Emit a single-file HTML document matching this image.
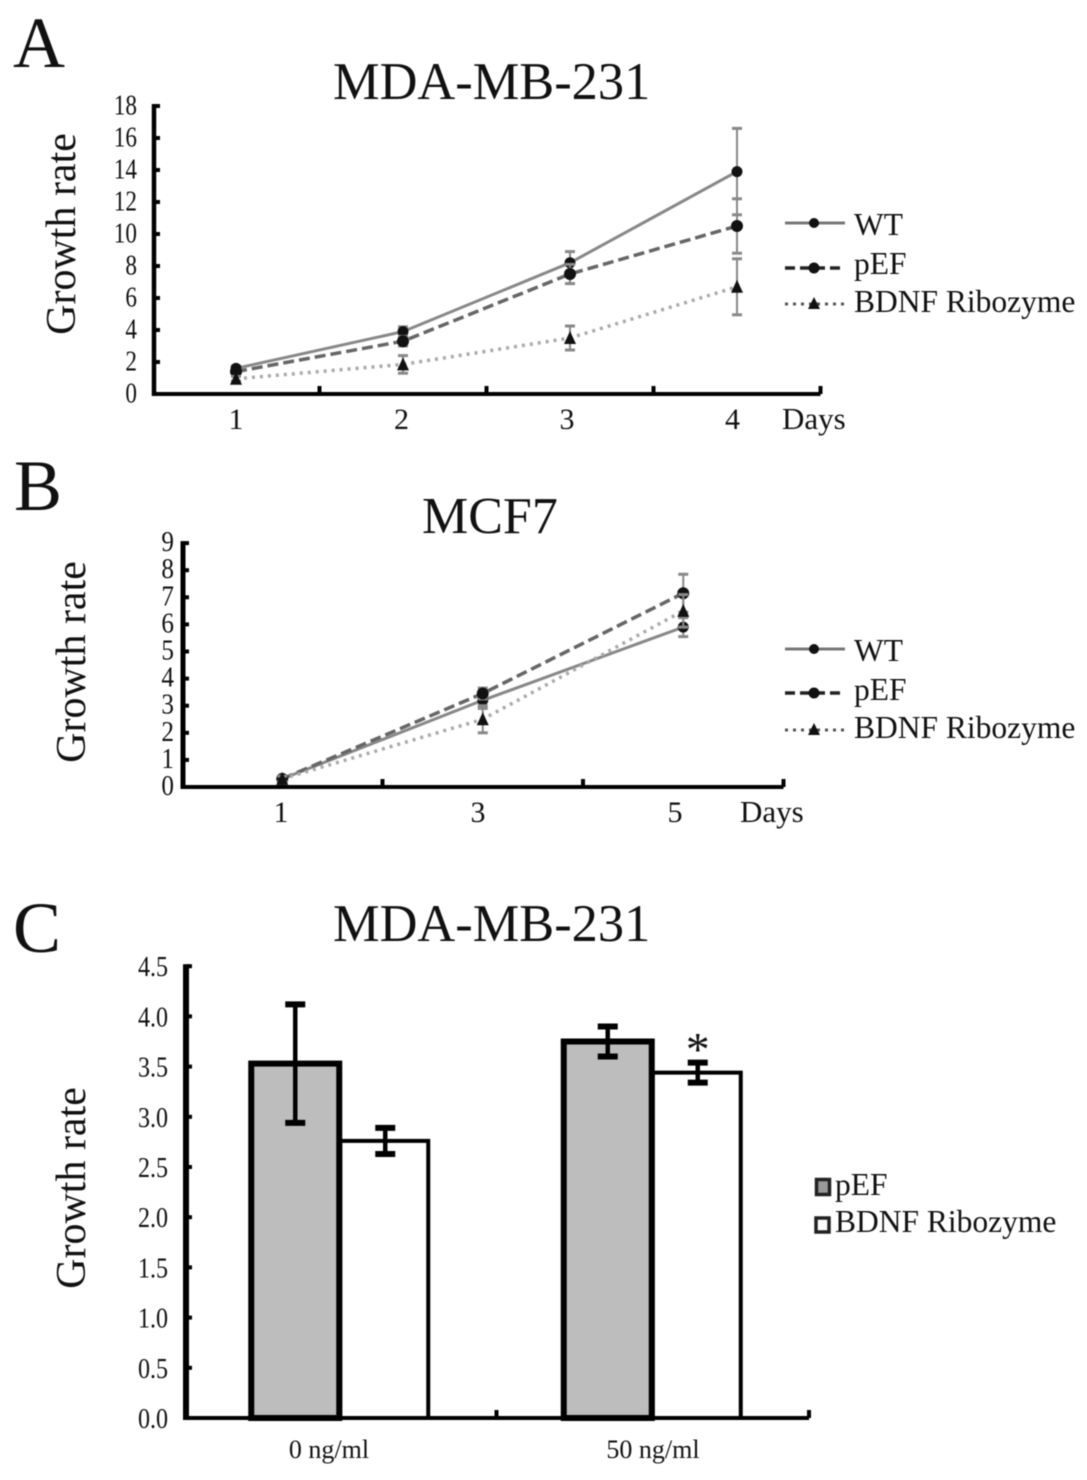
<!DOCTYPE html>
<html lang="en">
<head>
<meta charset="utf-8">
<title>Growth rate charts</title>
<style>
html,body{margin:0;padding:0;background:#fff;}
svg{display:block;font-family:"Liberation Serif",serif;fill:#111;filter:blur(0.4px);}
text{fill:#111;}
</style>
</head>
<body>
<svg id="figure" xmlns="http://www.w3.org/2000/svg" width="1087" height="1480" viewBox="0 0 1087 1480">
  <rect x="0" y="0" width="1087" height="1480" fill="#fff"/>

  <text x="13" y="67" font-size="72">A</text>
  <text x="14" y="510" font-size="72">B</text>
  <text x="13" y="952" font-size="72">C</text>

  <text x="333" y="99" font-size="52.4">MDA-MB-231</text>
  <text x="422" y="533" font-size="52">MCF7</text>
  <text x="333" y="941" font-size="52.4">MDA-MB-231</text>

  <text transform="translate(75,234) rotate(-90)" text-anchor="middle" font-size="42">Growth rate</text>
  <text transform="translate(85,662) rotate(-90)" text-anchor="middle" font-size="42">Growth rate</text>
  <text transform="translate(85,1188) rotate(-90)" text-anchor="middle" font-size="42">Growth rate</text>

  <text x="782" y="429" font-size="31">Days</text>
  <text x="740" y="822" font-size="31">Days</text>

  <g>
    <g>
      <line x1="785" y1="223" x2="845" y2="223" stroke="#777" stroke-width="3"/>
      <circle cx="814" cy="223" r="5" fill="#111"/>
      <text x="854" y="235" font-size="31.5">WT</text>
    </g>
    <g>
      <line x1="785" y1="268" x2="845" y2="268" stroke="#222" stroke-width="3.5" stroke-dasharray="10 5"/>
      <circle cx="814" cy="268" r="5.5" fill="#111"/>
      <text x="854" y="274" font-size="31.5">pEF</text>
    </g>
    <g>
      <line x1="785" y1="304" x2="845" y2="304" stroke="#555" stroke-width="3" stroke-dasharray="3 5"/>
      <polygon points="814,297 820,309 808,309" fill="#111"/>
      <text x="854" y="312" font-size="31.5">BDNF Ribozyme</text>
    </g>
  </g>

  <g>
    <g>
      <line x1="785" y1="649" x2="845" y2="649" stroke="#777" stroke-width="3"/>
      <circle cx="814" cy="649" r="5" fill="#111"/>
      <text x="854" y="661" font-size="31.5">WT</text>
    </g>
    <g>
      <line x1="785" y1="693" x2="845" y2="693" stroke="#222" stroke-width="3.5" stroke-dasharray="10 5"/>
      <circle cx="814" cy="693" r="5.5" fill="#111"/>
      <text x="854" y="700" font-size="31.5">pEF</text>
    </g>
    <g>
      <line x1="785" y1="730" x2="845" y2="730" stroke="#555" stroke-width="3" stroke-dasharray="3 5"/>
      <polygon points="814,723 820,735 808,735" fill="#111"/>
      <text x="854" y="738" font-size="31.5">BDNF Ribozyme</text>
    </g>
  </g>

  <g>
    <g>
      <rect x="816.5" y="1179.5" width="13" height="15" fill="#999" stroke="#222" stroke-width="3.5"/>
      <text x="835" y="1195" font-size="31.5">pEF</text>
    </g>
    <g>
      <rect x="816" y="1218" width="13" height="14" fill="#fff" stroke="#222" stroke-width="3.5"/>
      <text x="835" y="1232" font-size="31.5">BDNF Ribozyme</text>
    </g>
  </g>

  <g id="chart-a"></g>
  <g id="chart-b"></g>
  <g id="chart-c"></g>
</svg>

<script>
// Chart A: MDA-MB-231 line chart
const aCategories = ['1', '2', '3', '4'];
const aYTicks = [0, 2, 4, 6, 8, 10, 12, 14, 16, 18];
const aWT = [1.6, 3.9, 8.2, 13.9];
const aWTErr = [0.15, 0.3, 0.7, 2.7];
const aPEF = [1.4, 3.3, 7.5, 10.5];
const aPEFErr = [0.15, 0.3, 0.6, 1.7];
const aRibozyme = [0.95, 1.85, 3.5, 6.7];
const aRibozymeErr = [0.15, 0.55, 0.75, 1.75];

// Chart B: MCF7 line chart
const bCategories = ['1', '3', '5'];
const bYTicks = [0, 1, 2, 3, 4, 5, 6, 7, 8, 9];
const bWT = [0.3, 3.2, 5.9];
const bWTErr = [0.1, 0.3, 0.35];
const bPEF = [0.3, 3.45, 7.15];
const bPEFErr = [0.1, 0.2, 0.7];
const bRibozyme = [0.3, 2.5, 6.5];
const bRibozymeErr = [0.1, 0.5, 0.6];

// Chart C: MDA-MB-231 bar chart
const cCategories = ['0 ng/ml', '50 ng/ml'];
const cYTicks = ['0.0', '0.5', '1.0', '1.5', '2.0', '2.5', '3.0', '3.5', '4.0', '4.5'];
const cPEF = [3.53, 3.75];
const cPEFErr = [0.59, 0.15];
const cRibozyme = [2.76, 3.44];
const cRibozymeErr = [0.13, 0.1];

const NS = 'http://www.w3.org/2000/svg';

function make(parent, tag, attrs) {
  const node = document.createElementNS(NS, tag);
  for (const key in attrs) {
    node.setAttribute(key, attrs[key]);
  }
  parent.appendChild(node);
  return node;
}

function bandScale(left, band) {
  return function (i) { return left + (i + 0.5) * band; };
}

function linearScale(base, unitPx) {
  return function (v) { return base - v * unitPx; };
}

function drawAxes(group, cfg) {
  const right = cfg.left + cfg.band * cfg.categories.length;
  const yAxis = make(group, 'line', {x1: cfg.axisX, x2: cfg.axisX, y1: cfg.y(cfg.yMax) - 2, y2: cfg.y(0) + 2, stroke: '#000', 'stroke-width': cfg.axisWidth});
  
  
  const xAxis = make(group, 'line', {x1: cfg.axisX - 2, x2: right, y1: cfg.y(0), y2: cfg.y(0), stroke: '#000', 'stroke-width': 4});
  
  

  cfg.yTicks.forEach(function (t) {
    const v = Number(t);
    const tick = make(group, 'line', {x1: cfg.axisX, x2: cfg.axisX + 6, y1: cfg.y(v), y2: cfg.y(v), stroke: '#000', 'stroke-width': 4});
    
    
    const label = make(group, 'text', {transform: 'translate(' + cfg.yLabelX + ',' + (cfg.y(v) + cfg.yLabelDy) + ') scale(' + cfg.yLabelStretch + ',1)', 'text-anchor': 'end', 'font-size': cfg.yLabelSize});
    
    
    label.textContent = t;
  });

  for (let i = 1; i <= cfg.categories.length; i++) {
    const tx = cfg.left + i * cfg.band;
    const tick = make(group, 'line', {x1: tx, x2: tx, y1: cfg.y(0), y2: cfg.y(0) - 8, stroke: '#000', 'stroke-width': 4});
    
    
  }

  cfg.categories.forEach(function (c, i) {
    const label = make(group, 'text', {x: cfg.labelX(i), y: cfg.labelY, 'text-anchor': 'middle', 'font-size': cfg.xLabelSize});
    
    
    label.textContent = c;
  });
}

function drawErrorBar(group, cx, y, value, err, capHalf, color, width, capWidth) {
  const stem = make(group, 'line', {x1: cx, x2: cx, y1: y(value + err), y2: y(value - err), stroke: color, 'stroke-width': width});
  
  
  const top = make(group, 'line', {x1: cx - capHalf, x2: cx + capHalf, y1: y(value + err), y2: y(value + err), stroke: color, 'stroke-width': capWidth});
  
  
  const low = make(group, 'line', {x1: cx - capHalf, x2: cx + capHalf, y1: y(value - err), y2: y(value - err), stroke: color, 'stroke-width': capWidth});
  
  
}

function drawSeries(group, x, y, values, errs, style, name) {
  values.forEach(function (v, i) {
    drawErrorBar(group, x(i), y, v, errs[i], 5, '#888', 2, 3);
  });
  const pts = values.map(function (v, i) { return x(i) + ',' + y(v); }).join(' ');
  const line = make(group, 'polyline', {points: pts, fill: 'none', stroke: style.color, 'stroke-width': style.width, 'stroke-dasharray': style.dash});
  
  
  values.forEach(function (v, i) {
    let mark;
    if (style.marker === 'triangle') {
      const px = x(i);
      const py = y(v);
      mark = make(group, 'polygon', {points: px + ',' + (py - 7) + ' ' + (px + 6) + ',' + (py + 6) + ' ' + (px - 6) + ',' + (py + 6), fill: '#111'});
    } else {
      mark = make(group, 'circle', {cx: x(i), cy: y(v), r: style.r, fill: '#111'});
    }
    
    
  });
}

const wtStyle = {color: '#888', width: 3, dash: 'none', marker: 'circle', r: 5.5};
const pefStyle = {color: '#666', width: 3.5, dash: '11 5', marker: 'circle', r: 6};
const ribStyle = {color: '#aaa', width: 3.5, dash: '3 5', marker: 'triangle', r: 5};

// Chart A
const ax = bandScale(152.5, 167);
const ay = linearScale(394, 16);
const aGroup = document.getElementById('chart-a');
drawAxes(aGroup, {
  categories: aCategories, yTicks: aYTicks, yMax: 18, y: ay, left: 152.5, band: 167,
  axisX: 154, axisWidth: 4.5, yLabelX: 137, yLabelDy: 8.5, yLabelSize: 29, yLabelStretch: 0.8,
  labelX: function (i) { return 236 + i * 165.5; }, labelY: 429, xLabelSize: 30
});
drawSeries(aGroup, ax, ay, aWT, aWTErr, wtStyle, 'wt');
drawSeries(aGroup, ax, ay, aPEF, aPEFErr, pefStyle, 'pef');
drawSeries(aGroup, ax, ay, aRibozyme, aRibozymeErr, ribStyle, 'bdnf-ribozyme');

// Chart B
const bx = bandScale(182, 200.5);
const by = linearScale(787, 27.1);
const bGroup = document.getElementById('chart-b');
drawAxes(bGroup, {
  categories: bCategories, yTicks: bYTicks, yMax: 9, y: by, left: 182, band: 200.5,
  axisX: 183, axisWidth: 5, yLabelX: 174, yLabelDy: 8, yLabelSize: 28, yLabelStretch: 0.9,
  labelX: function (i) { return 281 + i * 197; }, labelY: 822, xLabelSize: 30
});
drawSeries(bGroup, bx, by, bWT, bWTErr, wtStyle, 'wt');
drawSeries(bGroup, bx, by, bPEF, bPEFErr, pefStyle, 'pef');
drawSeries(bGroup, bx, by, bRibozyme, bRibozymeErr, ribStyle, 'bdnf-ribozyme');

// Chart C
const cx = bandScale(184, 312.5);
const cy = linearScale(1418, 100.4);
const cGroup = document.getElementById('chart-c');
const barWidth = 88;
cCategories.forEach(function (c, i) {
  const whiteBar = make(cGroup, 'rect', {x: cx(i), y: cy(cRibozyme[i]), width: barWidth, height: cy(0) - cy(cRibozyme[i]), fill: '#fff', stroke: '#000', 'stroke-width': 4});
  
  
  const grayBar = make(cGroup, 'rect', {x: cx(i) - barWidth - 1, y: cy(cPEF[i]), width: barWidth, height: cy(0) - cy(cPEF[i]), fill: '#bdbdbd', stroke: '#000', 'stroke-width': 6});
  
  
});
drawAxes(cGroup, {
  categories: cCategories, yTicks: cYTicks, yMax: 4.5, y: cy, left: 184, band: 312.5,
  axisX: 186, axisWidth: 6, yLabelX: 168, yLabelDy: 10, yLabelSize: 29, yLabelStretch: 0.83,
  labelX: function (i) { return 329 + i * 324; }, labelY: 1458, xLabelSize: 26
});
cCategories.forEach(function (c, i) {
  drawErrorBar(cGroup, cx(i) - barWidth / 2 - 1, cy, cPEF[i], cPEFErr[i], 10, '#000', 4.5, 6);
  drawErrorBar(cGroup, cx(i) + barWidth / 2 + 1, cy, cRibozyme[i], cRibozymeErr[i], 10, '#000', 4.5, 6);
});
const star = make(cGroup, 'text', {x: cx(1) + barWidth / 2 + 1, y: cy(cRibozyme[1] + cRibozymeErr[1]) + 3, 'text-anchor': 'middle', 'font-size': 48});


star.textContent = '*';
</script>
</body>
</html>
